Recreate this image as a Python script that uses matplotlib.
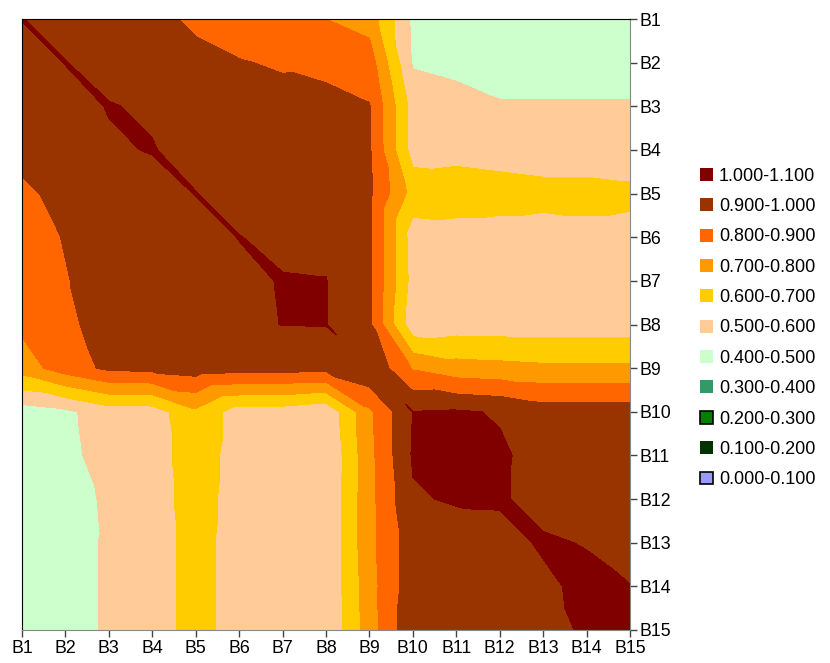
import numpy as np
import matplotlib
matplotlib.use("Agg")
import matplotlib.pyplot as plt
import matplotlib.tri as mtri
from matplotlib.patches import Patch

labels = [f"B{i}" for i in range(1, 16)]

z_rows = [
    [1.002, 0.97, 0.96, 0.93, 0.88, 0.85, 0.84, 0.80, 0.76, 0.48, 0.45, 0.45, 0.45, 0.45, 0.45],
    [0.97, 1.002, 0.97, 0.95, 0.93, 0.905, 0.89, 0.87, 0.85, 0.49, 0.47, 0.45, 0.45, 0.45, 0.45],
    [0.96, 0.97, 1.004, 0.99, 0.95, 0.95, 0.93, 0.935, 0.905, 0.56, 0.54, 0.51, 0.51, 0.51, 0.51],
    [0.93, 0.96, 0.99, 1.004, 0.97, 0.95, 0.94, 0.93, 0.91, 0.56, 0.57, 0.56, 0.55, 0.55, 0.55],
    [0.88, 0.93, 0.95, 0.97, 1.002, 0.97, 0.95, 0.94, 0.92, 0.66, 0.65, 0.64, 0.63, 0.63, 0.62],
    [0.86, 0.905, 0.94, 0.95, 0.97, 1.002, 0.98, 0.98, 0.92, 0.55, 0.56, 0.56, 0.56, 0.57, 0.57],
    [0.85, 0.895, 0.94, 0.95, 0.96, 0.98, 1.005, 1.002, 0.92, 0.56, 0.55, 0.55, 0.55, 0.55, 0.55],
    [0.82, 0.88, 0.94, 0.94, 0.95, 0.98, 1.002, 1.003, 0.92, 0.53, 0.55, 0.55, 0.55, 0.55, 0.55],
    [0.75, 0.85, 0.92, 0.93, 0.95, 0.94, 0.94, 0.93, 0.99, 0.79, 0.74, 0.73, 0.72, 0.72, 0.72],
    [0.45, 0.48, 0.55, 0.55, 0.68, 0.55, 0.55, 0.52, 0.78, 1.002, 1.01, 0.993, 0.95, 0.95, 0.95],
    [0.45, 0.47, 0.545, 0.55, 0.66, 0.55, 0.55, 0.50, 0.77, 1.01, 1.02, 1.012, 0.97, 0.95, 0.95],
    [0.45, 0.46, 0.515, 0.55, 0.65, 0.55, 0.55, 0.51, 0.77, 0.99, 1.01, 1.012, 0.965, 0.95, 0.95],
    [0.45, 0.47, 0.51, 0.55, 0.64, 0.55, 0.55, 0.51, 0.77, 0.96, 0.95, 0.965, 1.012, 0.995, 0.95],
    [0.45, 0.47, 0.51, 0.55, 0.64, 0.55, 0.55, 0.51, 0.76, 0.96, 0.95, 0.95, 0.98, 1.025, 1.003],
    [0.45, 0.47, 0.51, 0.55, 0.64, 0.55, 0.55, 0.51, 0.75, 0.98, 0.95, 0.95, 0.95, 1.02, 1.002],
]

levels = [0.0, 0.1, 0.2, 0.3, 0.4, 0.5, 0.6, 0.7, 0.8, 0.9, 1.0, 1.1]
band_colors = ["#9999FF", "#003300", "#008000", "#339966", "#CCFFCC", "#FFCC99",
               "#FFCC00", "#FF9900", "#FF6600", "#993300", "#800000"]
band_labels = [f"{levels[k]:.3f}-{levels[k+1]:.3f}" for k in range(len(band_colors))]

Z = np.array(z_rows)
n = Z.shape[0]
jj, ii = np.meshgrid(np.arange(n), np.arange(n))
x = jj.ravel().astype(float)
y = ii.ravel().astype(float)
tris = []
for i in range(n - 1):
    for j in range(n - 1):
        a = i * n + j
        b = i * n + j + 1
        c = (i + 1) * n + j
        d = (i + 1) * n + j + 1
        tris.append([a, b, d])
        tris.append([a, c, d])
tri = mtri.Triangulation(x, y, np.array(tris))

plt.rcParams['font.family'] = ['Liberation Sans', 'DejaVu Sans']
fig = plt.figure(figsize=(8.3, 6.63), dpi=100)
ax = fig.add_axes([22 / 830, 33 / 663, 608 / 830, 611 / 663])

ax.tricontourf(tri, Z.ravel(), levels=levels, colors=band_colors, antialiased=False)

ax.set_xlim(0, n - 1)
ax.set_ylim(n - 1, 0)
ax.set_xticks(range(n))
ax.set_xticklabels(labels, fontsize=12.8)
ax.set_yticks(range(n))
ax.set_yticklabels(labels, fontsize=12.8)
ax.yaxis.tick_right()
ax.tick_params(axis='both', direction='out', length=5, width=1, color='#444444', pad=2)
for side in ['top', 'left']:
    ax.spines[side].set_color('black')
for side in ['bottom', 'right']:
    ax.spines[side].set_color('#888888')

handles = []
for k in range(len(band_colors) - 1, -1, -1):
    edge = 'black' if band_labels[k] in ("0.200-0.300", "0.000-0.100") else band_colors[k]
    lw = 1.2 if edge == 'black' else 0
    handles.append(Patch(facecolor=band_colors[k], edgecolor=edge, linewidth=lw,
                         label=band_labels[k]))
fig.legend(handles=handles, loc='center left', bbox_to_anchor=(700 / 830, 1 - 328 / 663),
           frameon=False, fontsize=13, handlelength=0.72, handleheight=0.72,
           labelspacing=0.74, handletextpad=0.33, borderpad=0, borderaxespad=0)

fig.savefig("out.png", dpi=100)
